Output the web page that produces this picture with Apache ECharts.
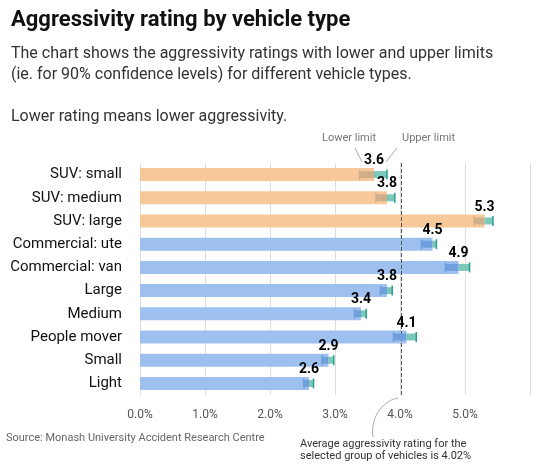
<!DOCTYPE html><html><head><meta charset="utf-8"><script src="https://cdn.jsdelivr.net/npm/echarts@6/dist/echarts.min.js"></script>
<style>body{margin:0}#c{width:540px;height:473px}</style></head><body><div id="c"></div><script>
const categories=['SUV: small','SUV: medium','SUV: large','Commercial: ute','Commercial: van','Large','Medium','People mover','Small','Light'];
const values=[3.6,3.8,5.3,4.5,4.9,3.8,3.4,4.1,2.9,2.6];
const lower=[3.38,3.63,5.14,4.33,4.7,3.7,3.3,3.9,2.8,2.52];
const upper=[3.8,3.92,5.43,4.56,5.07,3.88,3.48,4.25,2.98,2.67];
const xTicks=[0,1,2,3,4,5];
const average=4.02;
const isSUV=c=>c.startsWith('SUV');
const ch=echarts.init(document.getElementById('c'));
const F='Roboto, "Noto Sans", sans-serif';
ch.setOption({
animation:false,
title:[{text:'Aggressivity rating by vehicle type',left:6,top:4,textStyle:{fontSize:22,fontWeight:'bold',color:'#111',fontFamily:F}},
{text:'The chart shows the aggressivity ratings with lower and upper limits\n(ie. for 90% confidence levels) for different vehicle types.\n\nLower rating means lower aggressivity.',left:6,top:38,textStyle:{fontSize:16,fontWeight:'normal',color:'#333',lineHeight:21,fontFamily:F}}],
grid:{left:140,right:10,top:163,bottom:78},
xAxis:{type:'value',min:0,max:6,interval:1,axisLine:{show:false},axisTick:{show:false},
 splitLine:{lineStyle:{color:'#ddd'}},
 axisLabel:{formatter:v=>v<=5?v.toFixed(1)+'%':'',color:'#555',fontSize:12,margin:14,fontFamily:F}},
yAxis:{type:'category',data:categories,inverse:true,axisLine:{show:false},axisTick:{show:false},
 axisLabel:{color:'#111',fontSize:15,margin:18,fontFamily:F}},
series:[
{type:'bar',barWidth:13,data:values.map((v,i)=>({value:v,itemStyle:{color:isSUV(categories[i])?'#f7c99a':'#9dc0ee'}})),
 markLine:{symbol:'none',silent:true,label:{show:false},lineStyle:{type:'dashed',color:'#555',width:1},data:[{xAxis:average}]}},
{type:'custom',data:categories.map((c,i)=>[i,lower[i],values[i],upper[i]]),
 renderItem:(p,api)=>{
  const y=api.coord([0,api.value(0)])[1];
  const l=api.coord([api.value(1),0])[0],v=api.coord([api.value(2),0])[0],u=api.coord([api.value(3),0])[0];
  const dark=isSUV(categories[api.value(0)])?'#cfae8a':'#6f9fdc';
  return {type:'group',children:[
   {type:'rect',shape:{x:l,y:y-3.5,width:v-l,height:7},style:{fill:dark}},
   {type:'rect',shape:{x:v,y:y-3.5,width:u-v,height:7},style:{fill:'#7cc8bb'}},
   {type:'line',shape:{x1:l,y1:y-5,x2:l,y2:y+5},style:{stroke:dark,lineWidth:1.5}},
   {type:'line',shape:{x1:u,y1:y-5,x2:u,y2:y+5},style:{stroke:'#2a9e8c',lineWidth:1.5}},
   {type:'text',x:v,y:y-7,style:{text:api.value(2).toFixed(1),fill:'#000',font:'bold 14px '+F,textAlign:'center',textVerticalAlign:'bottom'}}
  ]};
 },z:5}
],
graphic:[
{type:'text',left:322,top:133,style:{text:'Lower limit',fill:'#777',font:'11px '+F}},
{type:'text',left:402,top:133,style:{text:'Upper limit',fill:'#777',font:'11px '+F}},
{type:'line',shape:{x1:355,y1:148,x2:362,y2:162},style:{stroke:'#aaa'}},
{type:'line',shape:{x1:397,y1:148,x2:386,y2:162},style:{stroke:'#aaa'}},
{type:'text',left:6,top:433,style:{text:'Source: Monash University Accident Research Centre',fill:'#666',font:'11px '+F}},
{type:'text',left:300,top:438,style:{text:'Average aggressivity rating for the\nselected group of vehicles is 4.02%',fill:'#333',font:'11px '+F,lineHeight:12}},
{type:'bezierCurve',shape:{x1:373,y1:437,x2:398,y2:398,cpx1:370,cpy1:415,cpx2:385,cpy2:400},style:{stroke:'#aaa',fill:null}}
]});
</script></body></html>
